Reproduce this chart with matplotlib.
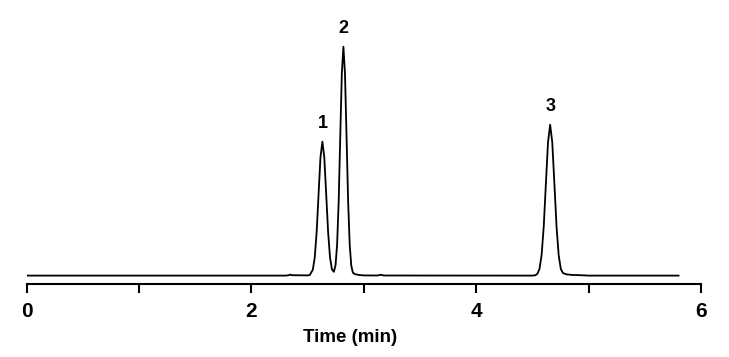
import matplotlib
matplotlib.use("Agg")
import matplotlib.pyplot as plt

# Chromatogram trace (time in min, detector signal in arbitrary units)
time_min = [0.0, 2.30, 2.33, 2.345, 2.36, 2.50, 2.52, 2.547, 2.564, 2.581, 2.598, 2.615, 2.632,
            2.649, 2.666, 2.683, 2.700, 2.717, 2.734, 2.749, 2.763, 2.777, 2.791, 2.805,
            2.819, 2.833, 2.847, 2.861, 2.875, 2.889, 2.903, 2.92, 2.96, 3.00, 3.12, 3.15,
            3.18, 4.50, 4.525, 4.544, 4.563, 4.582, 4.601, 4.620, 4.639, 4.658, 4.677,
            4.696, 4.715, 4.734, 4.753, 4.772, 4.80, 4.85, 4.95, 5.00, 5.80]
signal = [0.0, 0.0, 0.3, 1.0, 0.4, 0.2, 0.6, 5.9, 18.1, 43.5, 81.3, 118.3, 134.0,
          118.3, 81.3, 43.5, 18.1, 6.2, 3.8, 10.4, 31.0, 74.4, 138.9, 202.1,
          229.0, 202.1, 138.9, 74.4, 31.0, 10.1, 3.0, 1.5, 0.6, 0.2, 0.1, 0.8,
          0.1, 0.0, 0.3, 1.7, 6.6, 20.4, 49.0, 91.6, 133.3, 151.0, 133.3,
          91.6, 49.0, 20.4, 6.6, 2.6, 1.3, 0.7, 0.3, 0.0, 0.0]

peak_labels = ["1", "2", "3"]
peak_times = [2.632, 2.819, 4.658]
peak_heights = [134.0, 229.0, 151.0]

x_ticks_major = [0, 2, 4, 6]
x_ticks_minor = [1, 3, 5]

fam = ["Liberation Sans", "DejaVu Sans"]

fig = plt.figure(figsize=(7.29, 3.57), dpi=100)
ax = fig.add_axes([26.5 / 729, 1 - 284 / 357, 674.5 / 729, 254 / 357])

ax.plot(time_min, signal, color="black", lw=1.3, solid_joinstyle="round")

for lab, t, h in zip(peak_labels, peak_times, peak_heights):
    ax.annotate(lab, (t, h), xytext=(0, 7), textcoords="offset points",
                ha="center", va="bottom", fontsize=13, fontweight="bold",
                family=fam)

ax.set_xlim(0, 6)
ax.set_ylim(-8.4, 245.7)
for s in ["top", "right", "left"]:
    ax.spines[s].set_visible(False)
ax.spines["bottom"].set_linewidth(1.5)
ax.set_yticks([])
ax.set_xticks(x_ticks_major)
ax.set_xticks(x_ticks_minor, minor=True)
ax.set_xticklabels([str(v) for v in x_ticks_major], fontsize=15, fontweight="bold", family=fam)
ax.tick_params(axis="x", which="both", direction="out", length=6.5, width=1.5, pad=6.5)

fig.text(350 / 729, 1 - 338 / 357, "Time (min)", ha="center", va="center",
         fontsize=13.5, fontweight="bold", family=fam)

fig.savefig("out.png", dpi=100)
